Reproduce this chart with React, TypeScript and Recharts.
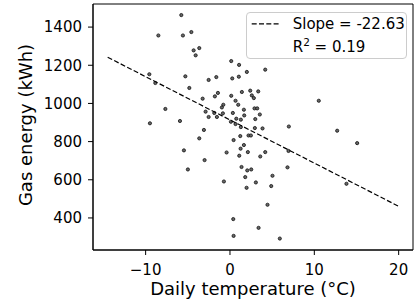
import type { FC } from "react";
import {
  ScatterChart,
  Scatter,
  XAxis,
  YAxis,
  ReferenceArea,
} from "recharts";

// daily temperature (°C) and gas energy (kWh)
const temps = [
  -5.77, -8.49, -5.58, -4.58, -4.31, -3.64, -4.07, -9.56, -8.85, -5.29,
  -4.82, -2.53, -3.24, -7.66, -2.89, -2.53, -9.49, -5.93, -3.09, -3.64,
  -5.46, -3.01, -4.99, -1.62, 0.15, 1.08, 0.27, 1.05, 2.0, 4.18,
  -1.43, -1.79, 0.15, 1.41, 2.4, 3.35, 2.59, 2.83, 0.66, 0.98,
  -0.79, -0.96, 2.91, 3.23, 1.65, 0.34, -1.86, -1.55, -0.84, 1.69,
  3.54, 3.0, 0.75, 1.29, 0.11, 0.66, 1.29, 3.86, 2.95, 0.43,
  1.22, 2.2, 2.48, 1.65, 1.26, -0.4, 1.1, 2.12, 3.59, 4.18,
  1.37, 2.05, 2.52, 1.81, 3.07, -0.72, 1.97, 6.98, 6.94, 6.82,
  5.04, 4.89, 4.45, 10.53, 12.71, 15.08, 13.81, 0.39, 3.39, 0.43,
  5.91,
];
const energy = [
  1463, 1356, 1356, 1374, 1278, 1290, 1252, 1153, 1107, 1142,
  1081, 1123, 1025, 971, 957, 929, 896, 908, 861, 817,
  754, 703, 654, 1138, 1222, 1202, 1131, 1140, 1165, 1177,
  1055, 1037, 1040, 1060, 1067, 1063, 1042, 1028, 1014, 993,
  993, 979, 974, 974, 967, 950, 950, 929, 948, 937,
  942, 918, 920, 915, 904, 892, 876, 869, 871, 808,
  829, 832, 832, 782, 763, 743, 726, 745, 722, 745,
  667, 649, 654, 614, 586, 591, 558, 879, 751, 665,
  621, 567, 469, 1014, 857, 792, 579, 394, 348, 306,
  292,
];

// fitted line end points
const fitX = [-14.5, 20];
const fitY = [1242, 461];

const xTicks = [-10, 0, 10, 20];
const yTicks = [400, 600, 800, 1000, 1200, 1400];
const xDomain = [-16.24, 21.7];
const yDomain = [232, 1521];

const points = temps.map((t, i) => ({ t, e: energy[i] }));
const fitData = fitX.map((t, i) => ({ t, e: fitY[i] }));

const FONT = "DejaVu Sans";

const Dot = ({ cx, cy }: any) => (
  <circle cx={cx} cy={cy} r={1.6} fill="#666" stroke="#111" strokeWidth={0.8} />
);

const YLabel = ({ viewBox }: any) => {
  const cx = viewBox.x + 31.5;
  const cy = viewBox.y + viewBox.height / 2 - 2;
  return (
    <text
      x={cx}
      y={cy}
      transform={`rotate(-90, ${cx}, ${cy})`}
      textAnchor="middle"
      fontFamily={FONT}
      fontSize={18}
      fill="#000"
    >
      Gas energy (kWh)
    </text>
  );
};

const App: FC = () => {
  return (
    <div style={{ position: "absolute", left: 0, top: 0, width: 414, height: 306 }}>
      <ScatterChart
        width={414}
        height={306}
        margin={{ top: 4, right: 1, bottom: 0, left: 0 }}
      >
        <XAxis
          type="number"
          dataKey="t"
          domain={xDomain}
          ticks={xTicks}
          allowDataOverflow
          height={56}
          tickSize={5}
          tickMargin={9}
          tickFormatter={(v: number) => String(v).replace("-", "\u2212")}
          tick={{ fontFamily: FONT, fontSize: 15, fill: "#000" }}
          axisLine={{ stroke: "#000" }}
          tickLine={{ stroke: "#000" }}
          label={{
            value: "Daily temperature (°C)",
            position: "insideBottom",
            offset: 11,
            style: { fontFamily: FONT, fontSize: 18, fill: "#000" },
          }}
        />
        <YAxis
          type="number"
          dataKey="e"
          domain={yDomain}
          ticks={yTicks}
          allowDataOverflow
          width={93}
          tickSize={5}
          tickMargin={6}
          tick={{ fontFamily: FONT, fontSize: 15, fill: "#000" }}
          axisLine={{ stroke: "#000" }}
          tickLine={{ stroke: "#000" }}
          label={<YLabel />}
        />
        <ReferenceArea
          x1={xDomain[0]}
          x2={xDomain[1]}
          y1={yDomain[0]}
          y2={yDomain[1]}
          fill="none"
          stroke="#000"
          strokeWidth={1}
          ifOverflow="visible"
        />
        <Scatter
          data={points}
          shape={<Dot />}
          isAnimationActive={false}
        />
        <Scatter
          data={fitData}
          line={{ stroke: "#000", strokeWidth: 1.2, strokeDasharray: "5 2.3" }}
          shape={() => <g />}
          isAnimationActive={false}
        />
      </ScatterChart>

      {/* Legend */}
      <div
        style={{
          position: "absolute",
          left: 246,
          top: 11.5,
          width: 161,
          height: 47.5,
          boxSizing: "border-box",
          border: "1px solid #cccccc",
          borderRadius: 4,
          background: "rgba(255,255,255,0.8)",
        }}
      >
        <svg width={159} height={46} style={{ display: "block" }}>
          <line
            x1={4.7}
            x2={32.3}
            y1={10.8}
            y2={10.8}
            stroke="#000"
            strokeWidth={1.2}
            strokeDasharray="5 2.3"
          />
          <text x={45.7} y={15.5} fontFamily={FONT} fontSize={15} fill="#000">
            Slope = -22.63
          </text>
          <text x={45.7} y={38.5} fontFamily={FONT} fontSize={15} fill="#000">
            R
            <tspan dy={-6} fontSize={10.5}>
              2
            </tspan>
            <tspan dy={6}> = 0.19</tspan>
          </text>
        </svg>
      </div>
    </div>
  );
};

export default App;
